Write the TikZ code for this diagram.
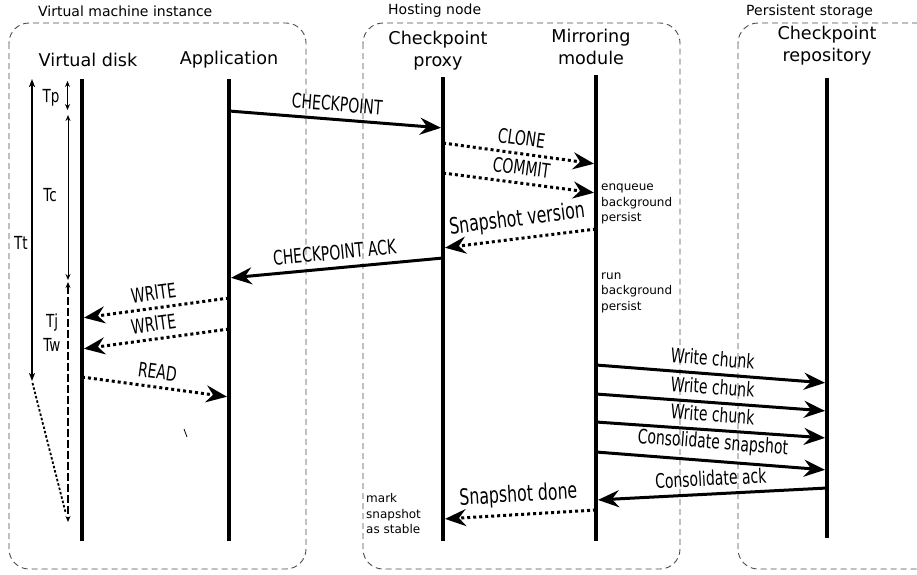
\documentclass[tikz,border=0pt]{standalone}
\usepackage{fontspec}
\setmainfont{DejaVu Sans}
\newfontfamily\condfont[FakeStretch=0.7]{DejaVu Sans}
\newfontfamily\timefont[FakeStretch=0.75]{DejaVu Sans}
\usetikzlibrary{arrows.meta}
\tikzset{
  group/.style={draw=black!70, line width=0.9pt, dash pattern=on 6pt off 4pt, rounded corners=20pt},
  gtitle/.style={anchor=west, inner sep=0pt, font=\fontsize{14}{17}\selectfont},
  header/.style={align=center, inner sep=0pt, font=\fontsize{17.6}{22}\selectfont},
  lifeline/.style={line width=4pt},
  call/.style={line width=3pt, shorten >=2pt, -{Stealth[length=21pt,width=17pt,inset=7pt]}},
  async/.style={call, dash pattern=on 3pt off 3pt},
  msglabel/.style={sloped, above=4.5pt, inner sep=2pt, font=\condfont\fontsize{20}{22}\selectfont},
  biglabel/.style={msglabel, font=\condfont\fontsize{22.5}{24}\selectfont},
  note/.style={anchor=west, align=left, inner sep=0pt, font=\fontsize{12}{15.5}\selectfont},
  timing/.style={line width=1pt, {Stealth[length=6pt,width=5pt,inset=2pt]}-{Stealth[length=6pt,width=5pt,inset=2pt]}},
  total/.style={line width=1.6pt, {Stealth[length=8pt,width=6pt,inset=2pt]}-{Stealth[length=8pt,width=6pt,inset=2pt]}},
  tlabel/.style={inner sep=0pt, font=\timefont\fontsize{18}{20}\selectfont},
}
\begin{document}
\begin{tikzpicture}[x=1pt,y=-1pt]
  \useasboundingbox (0,0) rectangle (917,574);
  \draw[group] (9,23) rectangle (306,569);
  \draw[group] (363,23) rectangle (680,569);
  \draw[group] (738,23) rectangle (950,569);
  \node[gtitle] (vm) at (38,11) {Virtual machine instance};
  \node[gtitle] (host) at (388,11) {Hosting node};
  \node[gtitle] (store) at (746,12) {Persistent storage};

  \node[header] (vdh) at (88,60) {Virtual disk};
  \node[header] (apph) at (229,60) {Application};
  \node[header] (cph) at (438,51) {Checkpoint\\proxy};
  \node[header] (mmh) at (591,47) {Mirroring\\module};
  \node[header] (crh) at (827,45.5) {Checkpoint\\repository};

  \foreach \n/\x/\t/\b in {vd/82/79/541, app/229/79/541, cp/443/77/541, mm/596/75/541, cr/827/78/538}
    \draw[lifeline] (\x,\t) coordinate (\n) -- (\x,\b) coordinate (\n-end);

  \draw[call] (app |- 0,111) -- node[msglabel] {CHECKPOINT} (cp |- 0,128);
  \draw[async] (cp |- 0,143) -- node[msglabel] {CLONE} (mm |- 0,164);
  \draw[async] (cp |- 0,173) -- node[msglabel] {COMMIT} (mm |- 0,193);
  \draw[async] (mm |- 0,229) -- node[biglabel] {Snapshot version} (cp |- 0,248);
  \draw[call] (cp |- 0,258) -- node[msglabel] {CHECKPOINT ACK} (app |- 0,278);
  \draw[async] (app |- 0,298) -- node[msglabel] {WRITE} (vd |- 0,318);
  \draw[async] (app |- 0,329) -- node[msglabel] {WRITE} (vd |- 0,349);
  \draw[async] (vd |- 0,377) -- node[msglabel] {READ} (app |- 0,397);
  \foreach \ya/\yb in {365/383, 394/411, 422/438}
    \draw[call] (mm |- 0,\ya) -- node[msglabel] {Write chunk} (cr |- 0,\yb);
  \draw[call] (mm |- 0,452) -- node[msglabel] {Consolidate snapshot} (cr |- 0,470);
  \draw[call] (cr |- 0,488) -- node[msglabel] {Consolidate ack} (mm |- 0,500);
  \draw[async] (mm |- 0,510) -- node[biglabel] {Snapshot done} (cp |- 0,519);

  \node[note] (enqueue) at (601,204) {enqueue\\background\\persist};
  \node[note] (run) at (601,292.5) {run\\background\\persist};
  \node[note] (mark) at (366,514) {mark\\snapshot\\as stable};

  \coordinate (tt-top) at (32,79);
  \coordinate (tt-bot) at (32,381);
  \coordinate (tp-top) at (67.5,81);
  \coordinate (tp-bot) at (67.5,110);
  \coordinate (tc-top) at (68,115);
  \coordinate (tc-bot) at (68,280);
  \coordinate (tw-top) at (68,282);
  \coordinate (tw-bot) at (68,522);
  \draw[total] (tt-top) -- (tt-bot);
  \draw[timing] (tp-top) -- (tp-bot);
  \draw[timing] (tc-top) -- (tc-bot);
  \draw[timing, line width=1.4pt, dash pattern=on 8pt off 3pt] (tw-top) -- (tw-bot);
  \draw[line width=1.8pt, dash pattern=on 2.5pt off 2pt, shorten <=2pt, shorten >=9pt] (tt-bot) -- (tw-bot);
  \node[tlabel] (tt) at (21,243) {Tt};
  \node[tlabel] (tp) at (51,98) {Tp};
  \node[tlabel] (tc) at (50,195) {Tc};
  \node[tlabel] (tj) at (52,323) {Tj};
  \node[tlabel] (tw) at (52,345) {Tw};
  \draw[line width=0.8pt] (184,429) -- (187,437);
\end{tikzpicture}
\end{document}
